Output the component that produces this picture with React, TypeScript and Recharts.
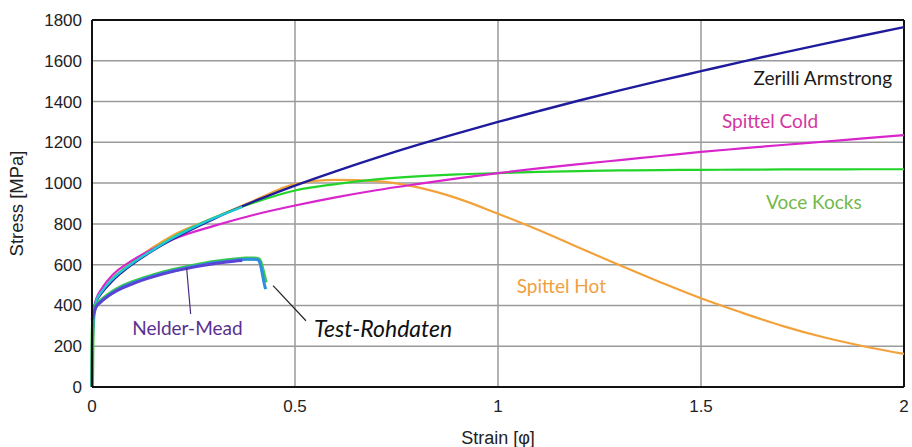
import React from 'react';
import { LineChart, Line, XAxis, YAxis, CartesianGrid, ReferenceLine, ReferenceDot } from 'recharts';

// strain grid shared by the model curves
const fitStrain = [0, 0.01, 0.025, 0.05, 0.1, 0.15, 0.2, 0.3, 0.4, 0.5, 0.6, 0.7, 0.8, 0.9, 1.0, 1.1, 1.2, 1.3, 1.4, 1.5, 1.6, 1.7, 1.8, 1.9, 2.0];
const zerilliArmstrong = [350, 417, 464, 520, 603, 669, 727, 825, 911, 988, 1058, 1124, 1186, 1244, 1300, 1353, 1405, 1455, 1503, 1549, 1595, 1639, 1682, 1724, 1765];
const spittelCold = [350, 430, 485, 548, 622, 677, 725, 790, 845, 890, 930, 965, 995, 1023, 1049, 1072, 1093, 1113, 1133, 1153, 1170, 1187, 1203, 1219, 1235];
const voceKocks = [350, 420, 470, 530, 610, 675, 735, 830, 905, 964, 995, 1018, 1033, 1043, 1049, 1055, 1059, 1062, 1064, 1065, 1066, 1067, 1067, 1068, 1068];
const spittelHot = [350, 420, 470, 530, 615, 685, 745, 830, 915, 995, 1016, 1010, 980, 925, 850, 770, 683, 597, 514, 435, 365, 300, 245, 200, 162];

// cyan fit over the upper group, short range
const cyanStrain = [0, 0.01, 0.025, 0.05, 0.1, 0.15, 0.2, 0.25, 0.3, 0.35, 0.37];
const cyanFit = [300, 420, 470, 528, 608, 672, 732, 783, 828, 868, 883];

// raw test data
const testStrain = [0, 0.001, 0.003, 0.006, 0.01, 0.02, 0.04, 0.06, 0.1, 0.15, 0.2, 0.25, 0.3, 0.35, 0.38, 0.4, 0.41, 0.415, 0.42, 0.425, 0.428];
const testGreen = [0, 200, 330, 380, 398, 420, 452, 478, 514, 547, 574, 595, 613, 625, 630, 630, 627, 612, 575, 535, 512];
const testBlue = [0, 210, 335, 375, 393, 416, 448, 474, 510, 543, 570, 591, 609, 621, 626, 626, 622, 600, 550, 500, 480];

const nmStrain = [0, 0.01, 0.02, 0.04, 0.06, 0.1, 0.15, 0.2, 0.25, 0.3, 0.35, 0.37];
const nelderMead = [330, 393, 414, 446, 471, 506, 540, 567, 588, 605, 617, 620];

const xTicks = [0, 0.5, 1, 1.5, 2];
const yTicks = [0, 200, 400, 600, 800, 1000, 1200, 1400, 1600, 1800];

const zip = (xs: number[], ys: number[]) => xs.map((x, i) => ({ x, y: ys[i] }));

const axisFont = 'Liberation Sans, Arial, sans-serif';
const tickStyle = { fontFamily: axisFont, fontSize: 17, fill: '#222' };
const noteFont = 'Lato, "Open Sans", sans-serif';

export default function App() {
  return (
    <div style={{ position: 'absolute', left: 0, top: 0, background: '#fff' }}>
      <LineChart width={912} height={447} margin={{ top: 20, right: 8, bottom: 0, left: 0 }}>
        <CartesianGrid stroke="#9a9a9a" strokeWidth={1.5} />
        <XAxis
          dataKey="x"
          type="number"
          domain={[0, 2]}
          ticks={xTicks}
          height={60}
          tick={tickStyle}
          tickLine={false}
          tickMargin={7}
          axisLine={{ stroke: '#111', strokeWidth: 2 }}
          allowDuplicatedCategory={false}
          label={{ value: 'Strain [φ]', position: 'insideBottom', offset: 3, fontSize: 18, fontFamily: axisFont, fill: '#222' }}
        />
        <YAxis
          type="number"
          domain={[0, 1800]}
          ticks={yTicks}
          width={92}
          tick={tickStyle}
          tickLine={false}
          tickMargin={4}
          axisLine={{ stroke: '#111', strokeWidth: 2 }}
          label={{ value: 'Stress [MPa]', angle: -90, position: 'insideLeft', offset: 16, fontSize: 18.5, fontFamily: axisFont, fill: '#222', textAnchor: 'middle' }}
        />
        <ReferenceLine y={1800} stroke="#111" strokeWidth={2} />
        <ReferenceLine x={2} stroke="#111" strokeWidth={2} />

        <Line data={zip(fitStrain, spittelHot)} dataKey="y" type="monotone" stroke="#f2a23a" strokeWidth={2.2} dot={false} isAnimationActive={false} />
        <Line data={zip(fitStrain, voceKocks)} dataKey="y" type="monotone" stroke="#22d42a" strokeWidth={2.2} dot={false} isAnimationActive={false} />
        <Line data={zip(fitStrain, spittelCold)} dataKey="y" type="monotone" stroke="#d826cc" strokeWidth={2.2} dot={false} isAnimationActive={false} />
        <Line data={zip(fitStrain, zerilliArmstrong)} dataKey="y" type="monotone" stroke="#1e1c9c" strokeWidth={2.4} dot={false} isAnimationActive={false} />
        <Line data={zip(cyanStrain, cyanFit)} dataKey="y" type="monotone" stroke="#22c8d4" strokeWidth={2.4} dot={false} isAnimationActive={false} />

        <Line data={zip(testStrain, testGreen)} dataKey="y" type="monotone" stroke="#3cc84a" strokeWidth={4} dot={false} isAnimationActive={false} />
        <Line data={zip(testStrain, testBlue)} dataKey="y" type="monotone" stroke="#2e8ee0" strokeWidth={3} dot={false} isAnimationActive={false} />
        <Line data={zip(nmStrain, nelderMead)} dataKey="y" type="monotone" stroke="#5a44d6" strokeWidth={3} dot={false} isAnimationActive={false} />

        <ReferenceLine segment={[{ x: 0.233, y: 585 }, { x: 0.243, y: 358 }]} stroke="#4a2a80" strokeWidth={1.2} />
        <ReferenceLine segment={[{ x: 0.446, y: 497 }, { x: 0.527, y: 325 }]} stroke="#222" strokeWidth={1.2} />

        <ReferenceDot x={1.8} y={1515} r={0} stroke="none" label={{ value: 'Zerilli Armstrong', position: 'center', fill: '#1a1a1a', fontSize: 19, fontFamily: noteFont }} />
        <ReferenceDot x={1.67} y={1303} r={0} stroke="none" label={{ value: 'Spittel Cold', position: 'center', fill: '#d4369f', fontSize: 19, fontFamily: noteFont }} />
        <ReferenceDot x={1.778} y={905} r={0} stroke="none" label={{ value: 'Voce Kocks', position: 'center', fill: '#72b84a', fontSize: 19, fontFamily: noteFont }} />
        <ReferenceDot x={1.156} y={492} r={0} stroke="none" label={{ value: 'Spittel Hot', position: 'center', fill: '#f0a040', fontSize: 19, fontFamily: noteFont }} />
        <ReferenceDot x={0.235} y={290} r={0} stroke="none" label={{ value: 'Nelder-Mead', position: 'center', fill: '#5a2f8e', fontSize: 19, fontFamily: noteFont }} />
        <ReferenceDot x={0.717} y={285} r={0} stroke="none" label={{ value: 'Test-Rohdaten', position: 'center', fill: '#111', fontSize: 23, fontStyle: 'italic', fontFamily: noteFont }} />
      </LineChart>
    </div>
  );
}
